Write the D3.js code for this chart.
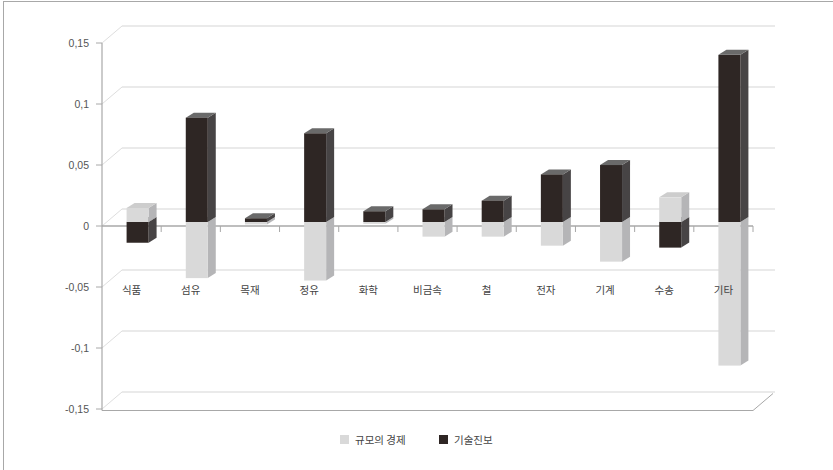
<!DOCTYPE html>
<html><head><meta charset="utf-8">
<script src="https://d3js.org/d3.v7.min.js"></script>
<style>
body{margin:0;background:#fff;}
svg{display:block;}
text{font-family:"Noto Sans CJK KR","Noto Sans",sans-serif;}
</style></head>
<body><svg id="c" width="833" height="470"></svg>
<script>
const categories = ['식품','섬유','목재','정유','화학','비금속','철','전자','기계','수송','기타'];
const scaleEcon = [0.0115, -0.046, -0.002, -0.048, -0.0015, -0.012, -0.012, -0.0194, -0.0325, 0.0202, -0.1177];
const techProg  = [-0.017, 0.0855, 0.003, 0.0727, 0.0088, 0.0104, 0.0175, 0.039, 0.0467, -0.021, 0.137];
const seriesNames = ['규모의 경제','기술진보'];
const yTicks = [0.15, 0.1, 0.05, 0, -0.05, -0.1, -0.15];
const yTickLabels = ['0,15','0,1','0,05','0','-0,05','-0,1','-0,15'];

const svg = d3.select('#c');
const colors = {
  light:{front:'#d9d9d9', side:'#b5b5b7', top:'#cdcdcd'},
  dark:{front:'#2e2624', side:'#474445', top:'#6a6a6a'}
};
const x = d3.scaleBand().domain(categories).range([102,753]).padding(0);
const y = d3.scaleLinear().domain([-0.15,0.15]).range([409,43]);
const DX = 20, DY = -17;    // chart depth
const ox = 6, oy = -4;      // bar plane offset
const bdx = 8, bdy = -5;    // bar depth
const bw = 22;

// frame
svg.append('line').attr('x1',3).attr('y1',1.5).attr('x2',833).attr('y2',1.5).attr('stroke','#a8a8a8');
svg.append('line').attr('x1',3.5).attr('y1',1).attr('x2',3.5).attr('y2',470).attr('stroke','#a8a8a8');

// back wall gridlines and side wall diagonals
yTicks.forEach(v=>{
  const yy = y(v);
  svg.append('line').attr('x1',102+DX).attr('y1',yy+DY).attr('x2',775).attr('y2',yy+DY)
    .attr('stroke','#e3e3e3').attr('stroke-width',1.5);
  svg.append('line').attr('x1',102).attr('y1',yy).attr('x2',102+DX).attr('y2',yy+DY)
    .attr('stroke','#dedede').attr('stroke-width',1);
});
// floor
const fy = y(-0.15)+1.5;
svg.append('line').attr('x1',102).attr('y1',fy).attr('x2',753).attr('y2',fy).attr('stroke','#a8a8a8').attr('stroke-width',1.2);
svg.append('line').attr('x1',753).attr('y1',fy).attr('x2',753+DX).attr('y2',fy+DY).attr('stroke','#a8a8a8').attr('stroke-width',1);

// category axis at zero
const y0 = y(0);
svg.append('line').attr('x1',102).attr('y1',y0).attr('x2',753).attr('y2',y0).attr('stroke','#a8a8a8').attr('stroke-width',1.5);
categories.forEach((c,i)=>{
  const xb = x(c)+x.bandwidth();
  svg.append('line').attr('x1',xb).attr('y1',y0).attr('x2',xb).attr('y2',y0+6).attr('stroke','#a8a8a8');
});

// vertical axis
svg.append('line').attr('x1',102).attr('y1',y(0.15)).attr('x2',102).attr('y2',fy).attr('stroke','#a8a8a8').attr('stroke-width',1.2);
yTicks.forEach((v,i)=>{
  svg.append('line').attr('x1',96).attr('y1',y(v)).attr('x2',102).attr('y2',y(v)).attr('stroke','#a8a8a8');
  svg.append('text').attr('x',89).attr('y',y(v)+4).attr('text-anchor','end')
    .attr('font-size',10.5).attr('fill','#555').style('font-family','"Liberation Sans",Arial,sans-serif').text(yTickLabels[i]);
});

// bars
function box(g, x0, yTop, yBot, col){
  const x1 = x0 + bw;
  g.append('polygon').attr('points',[[x1,yTop],[x1+bdx,yTop+bdy],[x1+bdx,yBot+bdy],[x1,yBot]].join(' '))
    .attr('fill',col.side);
  g.append('polygon').attr('points',[[x0,yTop],[x0+bdx,yTop+bdy],[x1+bdx,yTop+bdy],[x1,yTop]].join(' '))
    .attr('fill',col.top);
  g.append('rect').attr('x',x0).attr('y',yTop).attr('width',bw).attr('height',Math.max(0,yBot-yTop)).attr('fill',col.front);
}
const gBars = svg.append('g');
categories.forEach((c,i)=>{
  const segs = [{v:scaleEcon[i], col:colors.light},{v:techProg[i], col:colors.dark}];
  const pos = [], neg = [];
  let p=0, n=0;
  segs.forEach(s=>{
    if(s.v>=0){ pos.push({a:p,b:p+s.v,col:s.col}); p+=s.v; }
    else { neg.push({a:n+s.v,b:n,col:s.col}); n+=s.v; }
  });
  const x0 = x(c) + x.bandwidth()/2 + ox - bw/2;
  const ordered = neg.slice().reverse().concat(pos); // bottom to top
  ordered.forEach(s=>{
    box(gBars, x0, y(s.b)+oy, y(s.a)+oy, s.col);
  });
  svg.append('text').attr('x',x(c)+x.bandwidth()/2).attr('y',294).attr('text-anchor','middle')
    .attr('font-size',10.5).attr('fill','#444').text(c);
});

// legend
const leg = [{name:seriesNames[0], col:colors.light.front, x:340},{name:seriesNames[1], col:colors.dark.front, x:439}];
leg.forEach(l=>{
  svg.append('rect').attr('x',l.x).attr('y',435).attr('width',9).attr('height',9).attr('fill',l.col);
  svg.append('text').attr('x',l.x+15).attr('y',444).attr('font-size',10.5).attr('fill','#444').text(l.name);
});
</script></body></html>
